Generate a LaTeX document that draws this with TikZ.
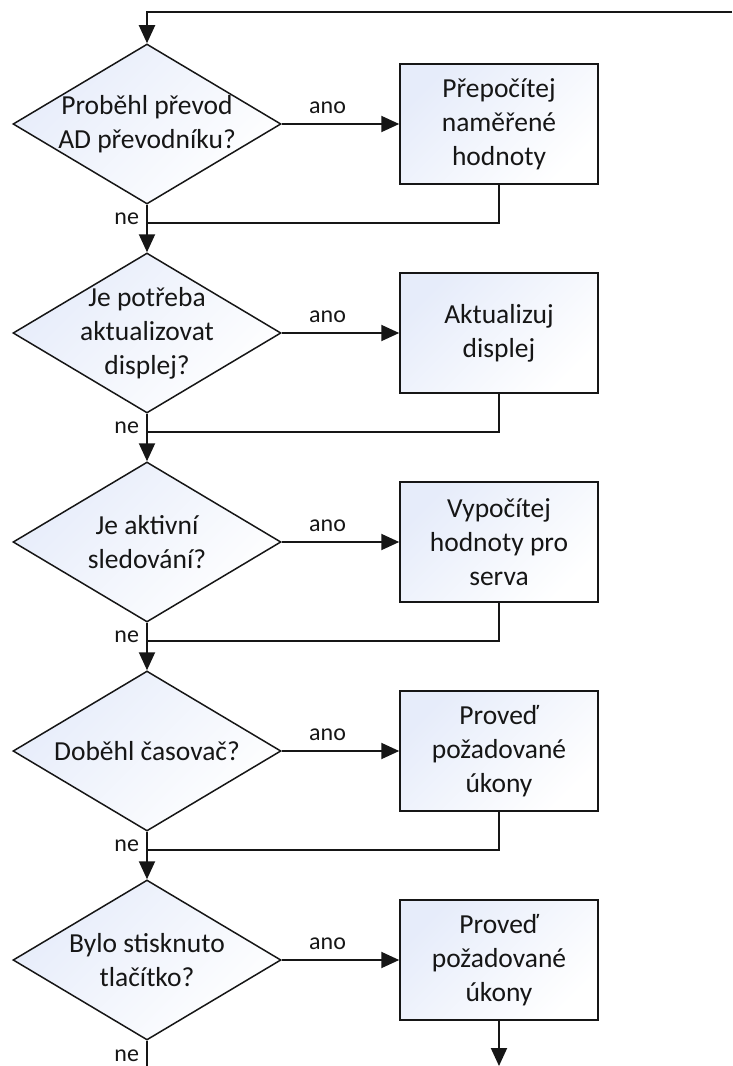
\documentclass[tikz,border=0pt]{standalone}
\usepackage{fontspec}
\setmainfont{Carlito}
\usetikzlibrary{arrows.meta,shapes.geometric}
\definecolor{ink}{RGB}{22,22,22}
\definecolor{paleblue}{RGB}{230,236,250}
\tikzset{
  decision/.style={diamond,draw=ink,line width=1.5pt,top color=paleblue,bottom color=white,shading angle=45,minimum width=268pt,minimum height=160pt,inner sep=-30pt,align=center,text=ink,font=\fontsize{27.5}{34}\selectfont},
  action/.style={rectangle,draw=ink,line width=1.5pt,top color=paleblue,bottom color=white,shading angle=45,minimum width=198pt,minimum height=120pt,align=center,text=ink,font=\fontsize{27.5}{34}\selectfont},
  arr/.style={-{Triangle[length=18pt,width=16pt]},draw=ink,line width=2pt},
  flow/.style={draw=ink,line width=2pt},
  tag/.style={font=\fontsize{24}{28}\selectfont,text=ink,inner sep=0pt}
}

\begin{document}
\begin{tikzpicture}[x=1pt,y=1pt]
  \useasboundingbox (0,0) rectangle (732,-1066);

  % questions
  \node[decision] (adc)   at (147,-124) {Proběhl převod\\AD převodníku?};
  \node[decision] (disp)  at (147,-333) {Je potřeba\\aktualizovat\\displej?};
  \node[decision] (track) at (147,-542) {Je aktivní\\sledování?};
  \node[decision] (timer) at (147,-751) {Doběhl časovač?};
  \node[decision] (btn)   at (147,-960) {Bylo stisknuto\\tlačítko?};

  % actions
  \node[action] (recalc)  at (499,-124) {Přepočítej\\naměřené\\hodnoty};
  \node[action] (update)  at (499,-333) {Aktualizuj\\displej};
  \node[action] (servo)   at (499,-542) {Vypočítej\\hodnoty pro\\serva};
  \node[action] (tasks)   at (499,-751) {Proveď\\požadované\\úkony};
  \node[action] (btntask) at (499,-960) {Proveď\\požadované\\úkony};

  % joins and loose ends
  \coordinate (back)  at (732,-12);
  \coordinate (j1)    at (147,-223);
  \coordinate (j2)    at (147,-432);
  \coordinate (j3)    at (147,-641);
  \coordinate (j4)    at (147,-850);
  \coordinate (endl)  at (147,-1066);
  \coordinate (endr)  at (499,-1066);

  \draw[arr] (back) -| (adc);

  \draw[arr] (adc) -- node[tag,pos=0.39,above=9pt]{ano} (recalc);
  \draw[arr] (disp) -- node[tag,pos=0.39,above=9pt]{ano} (update);
  \draw[arr] (track) -- node[tag,pos=0.39,above=9pt]{ano} (servo);
  \draw[arr] (timer) -- node[tag,pos=0.39,above=9pt]{ano} (tasks);
  \draw[arr] (btn) -- node[tag,pos=0.39,above=9pt]{ano} (btntask);

  \draw[arr] (adc) -- node[tag,pos=0.29,left=7pt]{ne} (disp);
  \draw[arr] (disp) -- node[tag,pos=0.29,left=7pt]{ne} (track);
  \draw[arr] (track) -- node[tag,pos=0.29,left=7pt]{ne} (timer);
  \draw[arr] (timer) -- node[tag,pos=0.29,left=7pt]{ne} (btn);
  \draw[flow] (btn) -- node[tag,pos=0.58,left=7pt]{ne} (endl);

  \draw[flow] (recalc) |- (j1);
  \draw[flow] (update) |- (j2);
  \draw[flow] (servo) |- (j3);
  \draw[flow] (tasks) |- (j4);
  \draw[arr] (btntask) -- (endr);
\end{tikzpicture}
\end{document}
